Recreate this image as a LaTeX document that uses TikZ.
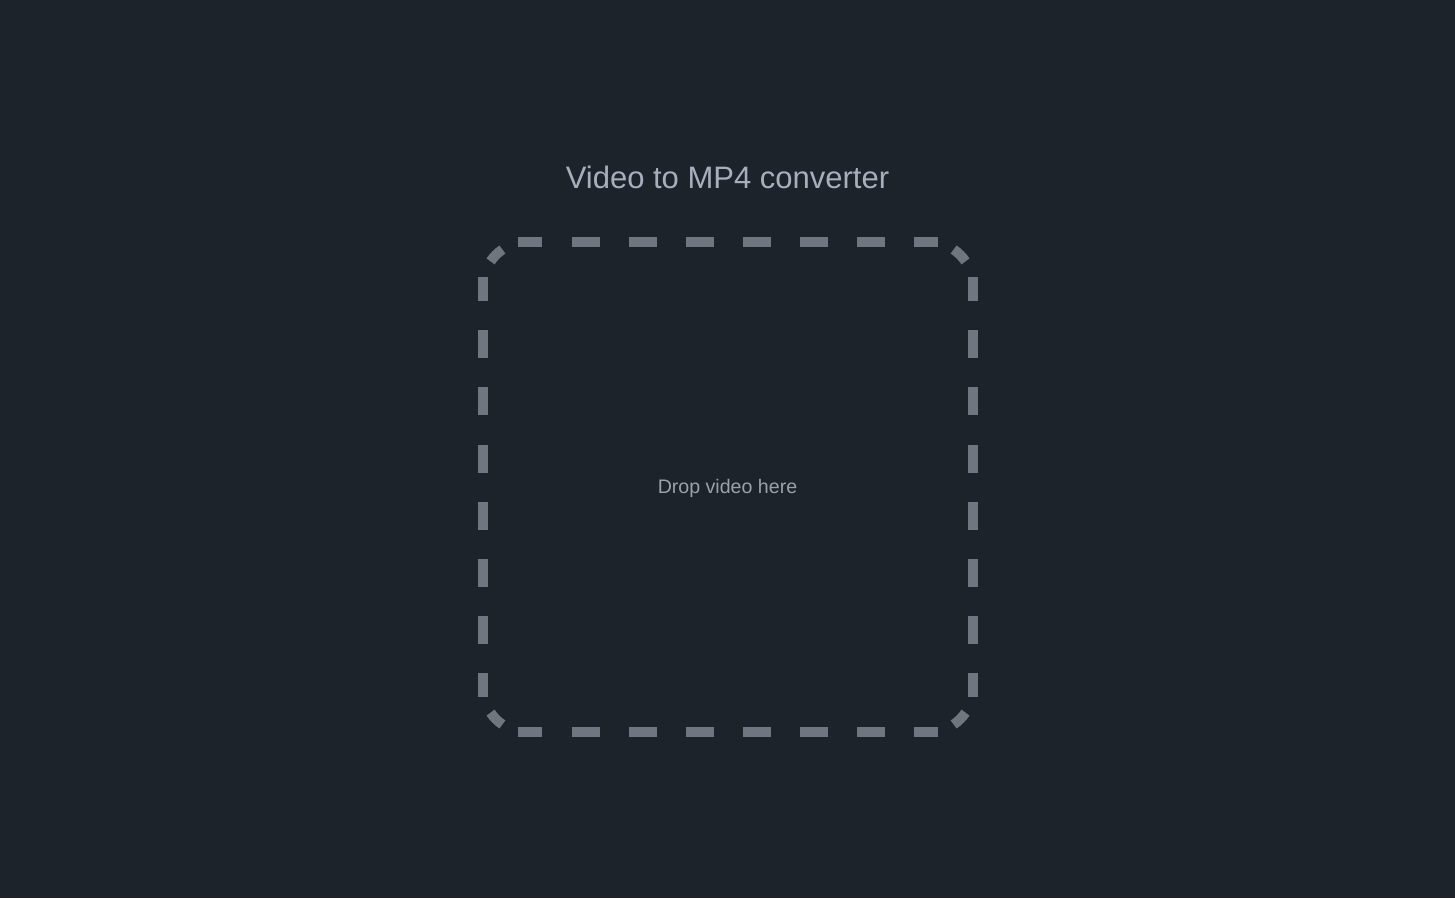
\documentclass[tikz,border=0pt]{standalone}
\usepackage{fontspec}
\setmainfont{Liberation Sans}
\usepackage{xcolor}
\usepackage{tikz}
\usetikzlibrary{positioning}
\definecolor{bgdark}{HTML}{1D232B}
\definecolor{titlegray}{HTML}{A8AEBB}
\definecolor{hintgray}{HTML}{9BA1AB}
\definecolor{dashgray}{HTML}{70767F}
\tikzstyle{title} = [text=titlegray, font=\fontsize{31}{37}\selectfont, anchor=base, inner sep=0pt]
\tikzstyle{hint} = [text=hintgray, font=\fontsize{19.6}{24}\selectfont, anchor=base, inner sep=0pt]
\tikzstyle{dashseg} = [draw=dashgray, line width=10pt, line cap=butt]

\begin{document}
\begin{tikzpicture}[x=1pt, y=1pt]
    % Background
    \fill [bgdark] (0,0) rectangle (1455,898);
    \useasboundingbox (0,0) rectangle (1455,898);

    % Texts
    \node [title] (heading) at (727.5,709.7) {Video to MP4 converter};
    \node [hint] (drop) at (727.5,404.7) {Drop video here};

    % Dashed drop zone, one side and one corner at a time
    \foreach \a in {0,90,180,270} {
        \begin{scope}[shift={(728,411)}, rotate=\a]
            \draw [dashseg] (-201,201) ++(146:44) arc (146:124:44);
            \draw [dashseg] (-210,245) -- (-186,245);
            \foreach \c in {-142.5,-85.5,-28.5,28.5,85.5,142.5}
                \draw [dashseg] (\c-14,245) -- (\c+14,245);
            \draw [dashseg] (186,245) -- (210,245);
        \end{scope}
    }
\end{tikzpicture}
\end{document}
